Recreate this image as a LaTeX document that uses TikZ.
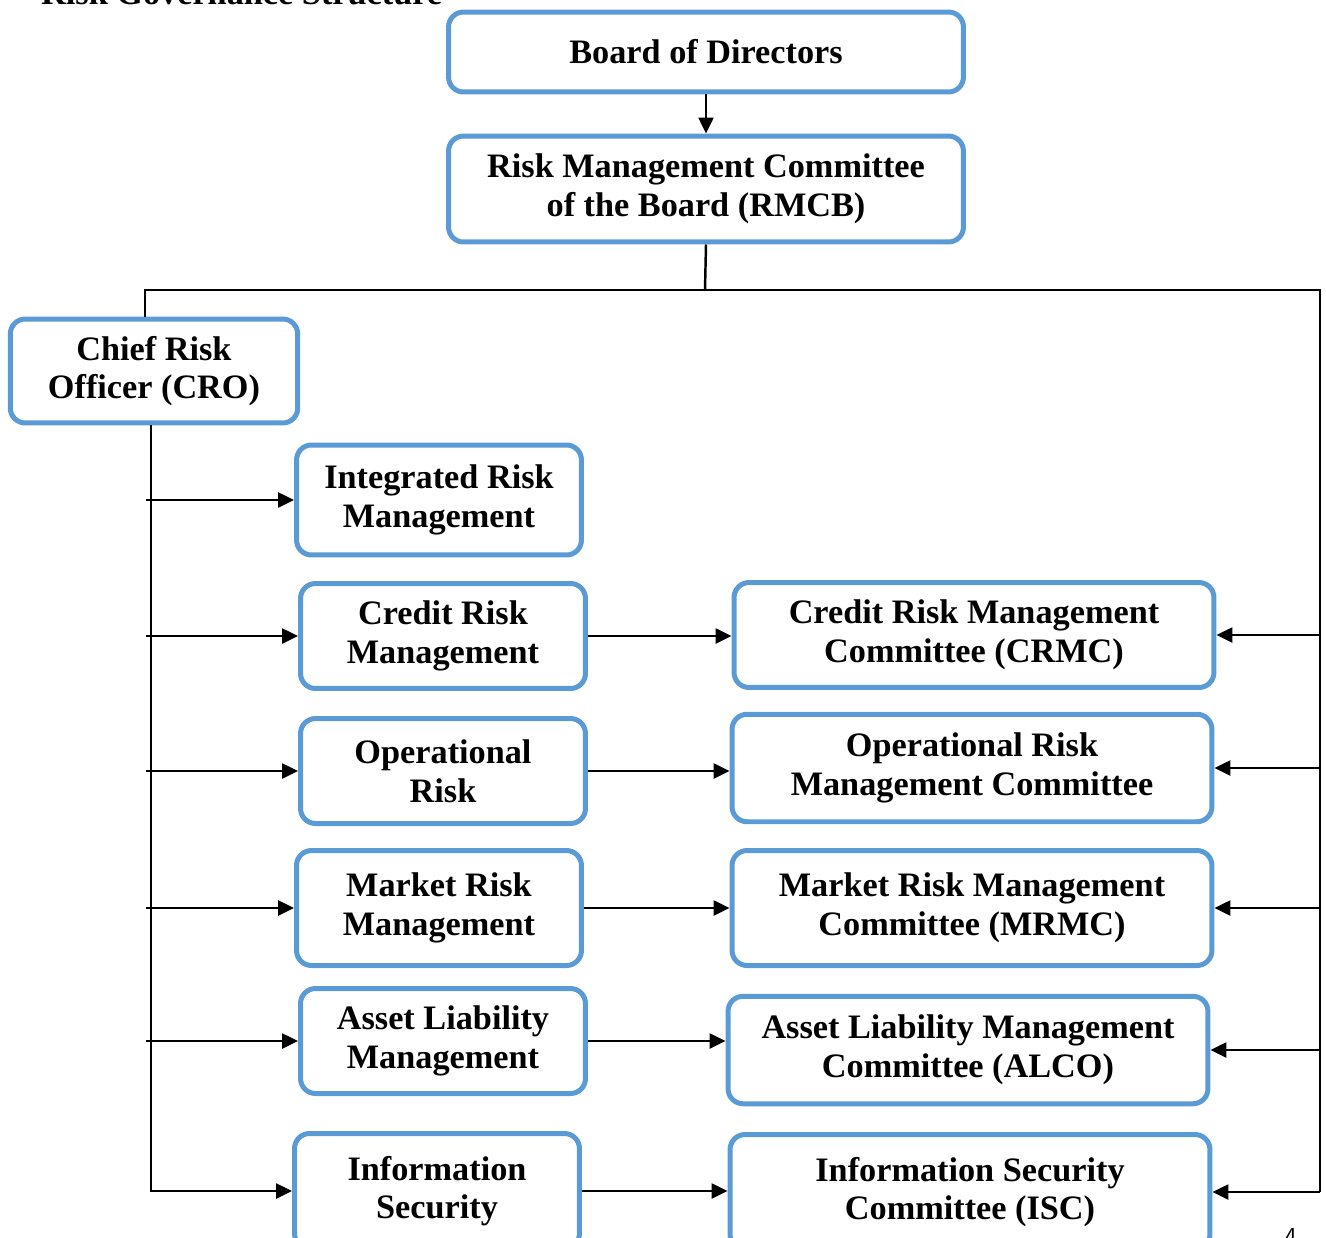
\documentclass[tikz,border=0pt]{standalone}
\usepackage{fontspec}
\setmainfont{Liberation Serif}
\usetikzlibrary{positioning,arrows.meta}
\definecolor{boxblue}{HTML}{5B9BD5}

\begin{document}
\begin{tikzpicture}[x=0.02cm,y=-0.02cm,
    box/.style={draw=boxblue,line width=0.1cm,rounded corners=0.3cm,align=center,
      font=\fontsize{19.5}{22}\selectfont\bfseries,inner sep=0pt},
    lbox/.style={box,minimum width=5.7cm,minimum height=2.2cm},
    rbox/.style={box,minimum width=9.6cm,minimum height=2.15cm},
    wire/.style={line width=1.4pt},
    link/.style={wire,-{Triangle[length=0.32cm,width=0.3cm]}}]
  \useasboundingbox (0,0) rectangle (1326,1238);

  % top of the tree
  \node[anchor=base west,font=\fontsize{19.5}{22}\selectfont\bfseries] (title) at (35,4) {Risk Governance Structure};
  \node[box,minimum width=10.3cm,minimum height=1.6cm] (board) at (706,52) {Board of Directors};
  \node[box,minimum width=10.3cm,minimum height=2.12cm] (rmcb) at (706,189) {Risk Management Committee\\of the Board (RMCB)};
  \node[box,minimum width=5.75cm,minimum height=2.08cm] (cro) at (154,371) {Chief Risk\\Officer (CRO)};

  % risk units
  \node[lbox] (irm) at (439,500) {Integrated Risk\\Management};
  \node[lbox,minimum height=2.1cm] (crm) at (443,636) {Credit Risk\\Management};
  \node[lbox,minimum height=2.1cm] (opr) at (443,771) {Operational\\Risk};
  \node[lbox,minimum height=2.3cm] (mrm) at (439,908) {Market Risk\\Management};
  \node[lbox,minimum height=2.1cm] (alm) at (443,1041) {Asset Liability\\Management};
  \node[lbox,minimum height=2.3cm] (isec) at (437,1191) {Information\\Security};

  % committees
  \node[rbox,minimum height=2.1cm] (crmc) at (974,635) {Credit Risk Management\\Committee (CRMC)};
  \node[rbox] (ormc) at (972,768) {Operational Risk\\Management Committee};
  \node[rbox,minimum height=2.3cm] (mrmc) at (972,908) {Market Risk Management\\Committee (MRMC)};
  \node[rbox] (alco) at (968,1050) {Asset Liability Management\\Committee (ALCO)};
  \node[rbox,minimum height=2.3cm] (isc) at (970,1192) {Information Security\\Committee (ISC)};

  \node[anchor=north,font=\sffamily\fontsize{14}{16}\selectfont] (pgno) at (1291,1222) {4};

  % connectors
  \coordinate (bend) at (705,290);
  \coordinate (bus) at (1320,290);
  \draw[link] (board) -- (rmcb);
  \draw[wire] (rmcb.south) -- (bend);
  \draw[wire] ([xshift=-0.18cm]cro.north) |- (bus) -- (bus |- isc.east);
  \foreach \n in {crmc,ormc,mrmc,alco,isc}
    \draw[link] (\n.east -| bus) -- (\n.east);
  \draw[link] ([xshift=-0.06cm]cro.south) |- (isec.west);
  \foreach \n in {irm,crm,opr,mrm,alm}
    \draw[link] ([xshift=-0.16cm]\n.west -| cro.south) -- (\n.west);
  \foreach \a/\b in {crm/crmc,opr/ormc,mrm/mrmc,alm/alco,isec/isc}
    \draw[link] (\a.east) -- (\a.east -| \b.west);
\end{tikzpicture}
\end{document}
